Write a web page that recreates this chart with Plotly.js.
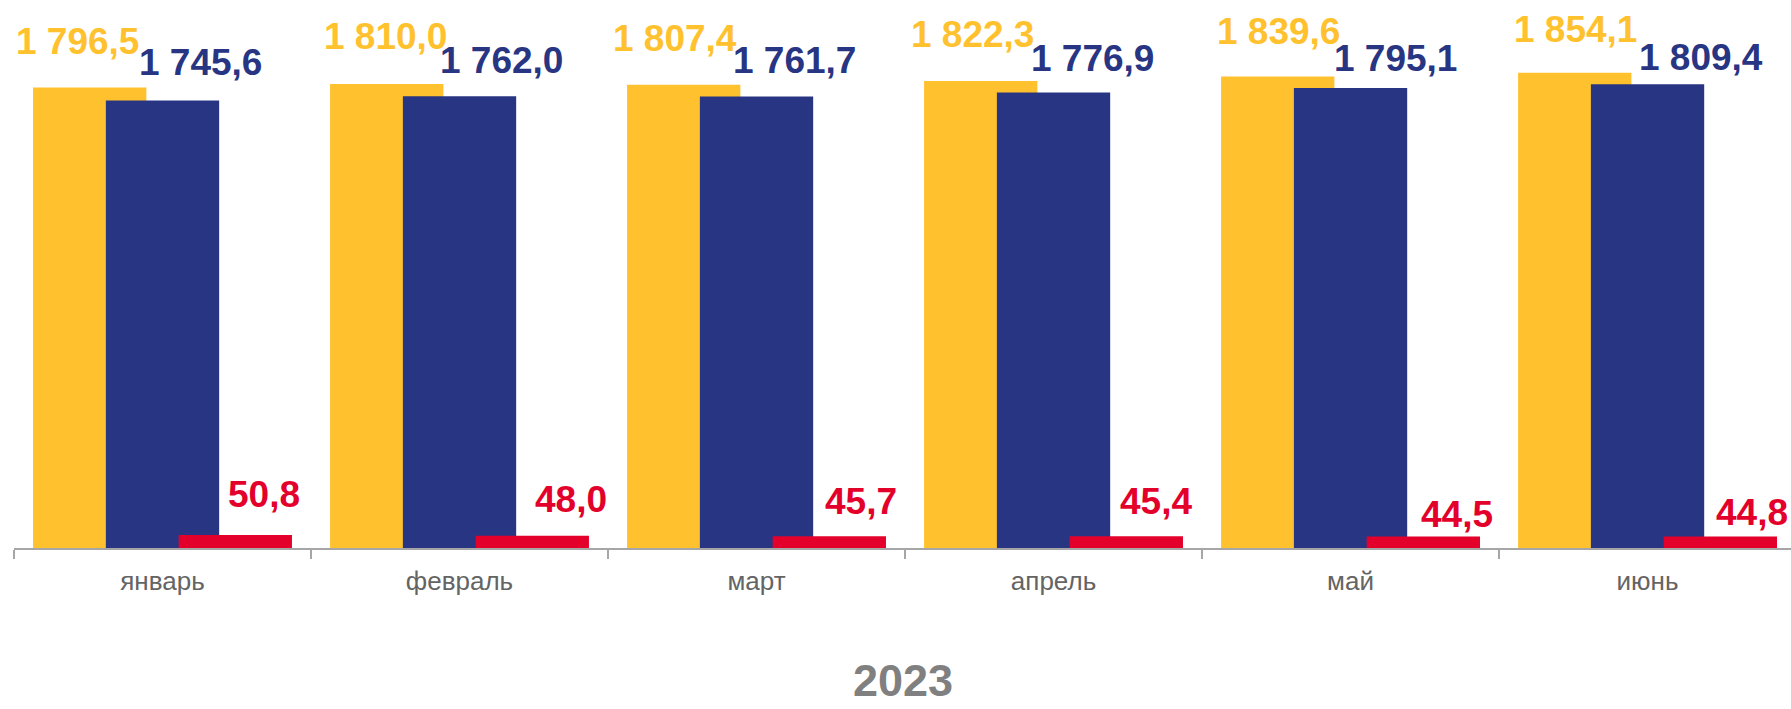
<!DOCTYPE html>
<html>
<head>
<meta charset="utf-8">
<script src="https://cdn.plot.ly/plotly-3.0.1.min.js"></script>
<style>html,body{margin:0;padding:0;background:#fff;}#chart{width:1791px;height:709px;}</style>
</head>
<body>
<div id="chart"></div>
<script>
// ---- data ----
var months = ["январь", "февраль", "март", "апрель", "май", "июнь"];
var seriesYellow = [1796.5, 1810.0, 1807.4, 1822.3, 1839.6, 1854.1];
var seriesBlue   = [1745.6, 1762.0, 1761.7, 1776.9, 1795.1, 1809.4];
var seriesRed    = [50.8, 48.0, 45.7, 45.4, 44.5, 44.8];
var yearLabel = "2023";

// ---- styling / label nudges (pixels) ----
var colors = {yellow: "#FFC22E", blue: "#283583", red: "#E3002B"};
var barW = 0.3815, step = 0.2451;
var nudges = {
  yellow: {dx: [-12, -1, -9, -8, 1, 1],  dy: [46, 48, 46, 46, 45, 43]},
  blue:   {dx: [38, 42, 38, 39, 45, 53], dy: [38, 36, 36, 34, 29, 27]},
  red:    {dx: [29, 39, 32, 30, 34, 32], dy: [40, 36, 35, 35, 22, 24]}
};

function fmt(v) {
  var s = v.toFixed(1).replace(".", ",");
  var parts = s.split(",");
  var ip = parts[0].replace(/\B(?=(\d{3})+(?!\d))/g, "\u00A0");
  return ip + "," + parts[1];
}

function barTrace(vals, color, offIdx) {
  return {
    type: "bar", x: months, y: vals,
    width: barW, offset: offIdx * step - barW / 2,
    marker: {color: color, line: {width: 0}},
    hoverinfo: "skip", showlegend: false
  };
}

var traces = [
  barTrace(seriesYellow, colors.yellow, -1),
  barTrace(seriesBlue, colors.blue, 0),
  barTrace(seriesRed, colors.red, 1)
];

var annotations = [];
function addLabels(vals, color, offIdx, nud) {
  vals.forEach(function (v, i) {
    annotations.push({
      x: i + offIdx * step, y: v, xref: "x", yref: "y",
      text: fmt(v), showarrow: false,
      xanchor: "center", yanchor: "middle",
      xshift: nud.dx[i], yshift: nud.dy[i],
      font: {family: "Liberation Sans, Arial, sans-serif", size: 37, color: color, weight: "bold"}
    });
  });
}
addLabels(seriesYellow, colors.yellow, -1, nudges.yellow);
addLabels(seriesBlue, colors.blue, 0, nudges.blue);
addLabels(seriesRed, colors.red, 1, nudges.red);

annotations.push({
  x: 0.5, y: 0, xref: "paper", yref: "paper",
  yshift: -132, xanchor: "center", yanchor: "middle", borderpad: 0,
  text: "<b>" + yearLabel + "</b>", showarrow: false,
  font: {family: "Liberation Sans, Arial, sans-serif", size: 45, color: "#808080"}
});

var layout = {
  width: 1791, height: 709,
  margin: {l: 14, r: 0, t: 0, b: 161},
  paper_bgcolor: "#fff", plot_bgcolor: "#fff",
  barmode: "overlay",
  xaxis: {
    type: "category", range: [-0.5, 5.483],
    showline: true, linecolor: "#A6A6A6", linewidth: 1.5,
    ticks: "outside", tickson: "boundaries", ticklen: 9, tickcolor: "#A6A6A6", tickwidth: 1.5,
    ticklabelstandoff: 9,
    tickfont: {family: "Liberation Sans, Arial, sans-serif", size: 26, color: "#646464"},
    showgrid: false, zeroline: false, fixedrange: true
  },
  yaxis: {
    range: [0, 2138], visible: false, showgrid: false, zeroline: false, fixedrange: true
  },
  annotations: annotations
};

Plotly.newPlot("chart", traces, layout, {displayModeBar: false, staticPlot: true});
</script>
</body>
</html>
